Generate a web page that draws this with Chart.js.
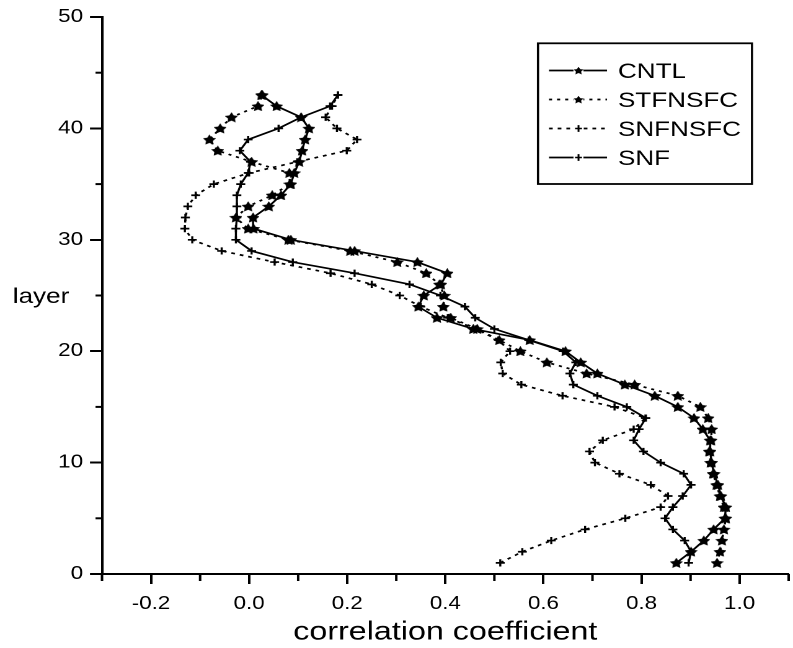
<!DOCTYPE html>
<html><head><meta charset="utf-8">
<script src="https://cdn.jsdelivr.net/npm/chart.js@4.4.1/dist/chart.umd.min.js"></script>
<style>
html,body{margin:0;padding:0;background:#fff;overflow:hidden;width:793px;height:648px;}
#wrap{position:absolute;left:0;top:0;width:645px;height:648px;transform:scaleX(1.24);transform-origin:0 0;}
canvas{display:block;}
</style></head><body>
<div id="wrap"><canvas id="c"></canvas></div>
<script>
// ---- data (x = correlation coefficient, y = layer) ----
const layers = [1,2,3,4,5,6,7,8,9,10,11,12,13,14,15,16,17,18,19,20,21,22,23,24,25,26,27,28,29,30,31,32,33,34,35,36,37,38,39,40,41,42,43];
const cntl = [0.871,0.901,0.927,0.947,0.970,0.972,0.962,0.956,0.948,0.943,0.940,0.940,0.925,0.907,0.874,0.827,0.766,0.710,0.676,0.645,0.572,0.457,0.383,0.345,0.356,0.391,0.404,0.343,0.215,0.085,0.009,0.008,0.040,0.065,0.085,0.092,0.102,0.108,0.114,0.122,0.106,0.056,0.025];
const stfnsfc = [0.954,0.960,0.964,0.968,0.972,0.968,0.960,0.953,0.946,0.941,0.938,0.942,0.943,0.936,0.920,0.874,0.786,0.688,0.607,0.553,0.510,0.465,0.411,0.396,0.398,0.388,0.361,0.302,0.206,0.080,-0.002,-0.027,-0.002,0.047,0.083,0.082,0.005,-0.064,-0.081,-0.059,-0.036,0.018,0.027];
const snfnsfc = [0.512,0.557,0.616,0.685,0.767,0.839,0.854,0.819,0.755,0.705,0.694,0.721,0.784,0.808,0.745,0.639,0.555,0.517,0.513,0.532,0.508,0.462,0.405,0.350,0.307,0.250,0.166,0.052,-0.056,-0.116,-0.131,-0.130,-0.125,-0.109,-0.072,0.000,0.098,0.199,0.220,0.179,0.156,0.169,0.181];
const snf = [0.896,0.901,0.888,0.864,0.848,0.864,0.884,0.901,0.886,0.839,0.804,0.784,0.795,0.809,0.770,0.710,0.661,0.654,0.666,0.640,0.570,0.500,0.461,0.440,0.390,0.327,0.215,0.089,0.005,-0.027,-0.027,-0.025,-0.025,-0.025,-0.017,-0.002,0.003,-0.019,-0.002,0.060,0.106,0.165,0.181];
const seriesNames = ['CNTL','STFNSFC','SNFNSFC','SNF'];
const xTitle = 'correlation coefficient';
const yTitle = 'layer';

const S = 1.24;             // horizontal stretch of the original picture
const FONT = "'Liberation Sans', Arial, sans-serif";

function makeStar(size, res) {
  const c = document.createElement('canvas');
  c.width = size * res; c.height = size * res;
  const g = c.getContext('2d');
  g.scale(res, res);
  const R = size / 2, r = R * 0.52, cx = size / 2, cy = R + (size - R * 1.81) / 2;
  g.beginPath();
  for (let i = 0; i < 10; i++) {
    const a = -Math.PI / 2 + i * Math.PI / 5;
    const rr = i % 2 === 0 ? R : r;
    g.lineTo(cx + rr * Math.cos(a), cy + rr * Math.sin(a));
  }
  g.closePath();
  g.fillStyle = '#000'; g.fill();
  g.lineWidth = 0.6; g.strokeStyle = '#000'; g.stroke();
  const img = new Image();
  return new Promise(done => { img.onload = () => { img.width = size; img.height = size; done(img); }; img.src = c.toDataURL(); });
}

const isMajorX = v => { const k = Math.round(v * 10); return k % 2 === 0 && k >= -2 && k <= 10; };
const isMajorY = v => Math.round(v) % 10 === 0;

const extras = {
  id: 'extras',
  afterDraw(chart) {
    const ctx = chart.ctx, xs = chart.scales.x, ys = chart.scales.y;
    ctx.save();
    ctx.strokeStyle = '#000'; ctx.lineWidth = 2; ctx.setLineDash([]);
    // minor ticks
    xs.ticks.forEach(t => {
      if (!isMajorX(t.value)) {
        const px = xs.getPixelForValue(t.value);
        ctx.beginPath(); ctx.moveTo(px, xs.top); ctx.lineTo(px, xs.top + 7); ctx.stroke();
      }
    });
    ys.ticks.forEach(t => {
      if (!isMajorY(t.value)) {
        const py = ys.getPixelForValue(t.value);
        ctx.beginPath(); ctx.moveTo(ys.right, py); ctx.lineTo(ys.right - 6.5 / S, py); ctx.stroke();
      }
    });
    // y title (horizontal)
    ctx.fillStyle = '#000';
    ctx.font = '21px ' + FONT;
    ctx.textAlign = 'center'; ctx.textBaseline = 'alphabetic';
    ctx.fillText(yTitle, 41 / S, 303);
    // legend
    const bx0 = 538 / S, bx1 = 752 / S, by0 = 43.3, by1 = 184;
    ctx.lineWidth = 1.8;
    ctx.strokeRect(bx0, by0, bx1 - bx0, by1 - by0);
    const lx0 = 549 / S, lx1 = 607 / S, mx = 578.5 / S, tx = 618 / S;
    ctx.font = '21px ' + FONT;
    ctx.textAlign = 'left';
    chart.data.datasets.forEach((ds, i) => {
      const base = 78 + 29 * i, ly = base - 7.5;
      ctx.save();
      ctx.lineWidth = 1.7;
      ctx.setLineDash(ds.borderDash || []);
      ctx.beginPath(); ctx.moveTo(lx0, ly); ctx.lineTo(lx1, ly); ctx.stroke();
      ctx.restore();
      ctx.fillStyle = '#fff';
      ctx.fillRect(mx - 4, ly - 4, 8, 8);
      if (ds.pointStyle && typeof ds.pointStyle === 'object') {
        const w = 7.5;
        ctx.drawImage(ds.pointStyle, mx - w / 2, ly - w / 2, w, w);
      } else {
        ctx.lineWidth = 1.5;
        ctx.beginPath();
        ctx.moveTo(mx - 2.8, ly); ctx.lineTo(mx + 2.8, ly);
        ctx.moveTo(mx, ly - 3.4); ctx.lineTo(mx, ly + 3.4);
        ctx.stroke();
      }
      ctx.fillStyle = '#000';
      ctx.fillText(ds.label, tx, base);
    });
    ctx.restore();
  }
};

makeStar(10.5, 8).then(star => {
  const pts = arr => arr.map((v, i) => ({ x: v, y: layers[i] }));
  const common = { showLine: true, borderColor: '#000', backgroundColor: '#000', borderWidth: 1.7,
                   pointBorderColor: '#000', pointBackgroundColor: '#000', fill: false, tension: 0 };
  new Chart(document.getElementById('c'), {
    type: 'scatter',
    data: { datasets: [
      Object.assign({ label: seriesNames[0], data: pts(cntl), pointStyle: star, pointRadius: 5, borderDash: [] }, common),
      Object.assign({ label: seriesNames[1], data: pts(stfnsfc), pointStyle: star, pointRadius: 5, borderDash: [2.5, 4] }, common),
      Object.assign({ label: seriesNames[2], data: pts(snfnsfc), pointStyle: 'cross', pointRadius: 3.6, pointBorderWidth: 1.7, borderDash: [3, 4] }, common),
      Object.assign({ label: seriesNames[3], data: pts(snf), pointStyle: 'cross', pointRadius: 3.6, pointBorderWidth: 1.7, borderDash: [] }, common)
    ]},
    options: {
      responsive: false, animation: false, devicePixelRatio: 2,
      layout: { padding: { left: 0, top: 17, right: 645 - 795.4 / S, bottom: 0 } },
      plugins: { legend: { display: false }, tooltip: { enabled: false } },
      scales: {
        x: {
          type: 'linear', min: -0.3, max: 1.1,
          ticks: { stepSize: 0.1, autoSkip: false, maxRotation: 0, padding: 9, color: '#000',
                   font: { family: FONT, size: 18 }, callback: v => isMajorX(v) ? v.toFixed(1) : '' },
          grid: { drawOnChartArea: false, drawTicks: true, tickLength: 10, tickWidth: 2,
                  tickColor: c => (c.tick && isMajorX(c.tick.value)) ? '#000' : 'rgba(0,0,0,0)' },
          border: { display: true, color: '#000', width: 2 },
          title: { display: true, text: xTitle, color: '#000', font: { family: FONT, size: 26 }, padding: { top: 0, bottom: 0 } },
          afterFit: s => { s.height = 74; }
        },
        y: {
          type: 'linear', min: 0, max: 50,
          ticks: { stepSize: 5, autoSkip: false, padding: 5.6, color: '#000',
                   font: { family: FONT, size: 18 }, callback: v => isMajorY(v) ? String(v) : '' },
          grid: { drawOnChartArea: false, drawTicks: true, tickLength: 9.7, tickWidth: 2,
                  tickColor: c => (c.tick && isMajorY(c.tick.value)) ? '#000' : 'rgba(0,0,0,0)' },
          border: { display: true, color: '#000', width: 2 },
          afterFit: s => { s.width = 102 / S; }
        }
      }
    },
    plugins: [extras]
  });
});
const cv = document.getElementById('c'); cv.width = 645; cv.height = 648; cv.style.width = '645px'; cv.style.height = '648px';
</script>
</body></html>
